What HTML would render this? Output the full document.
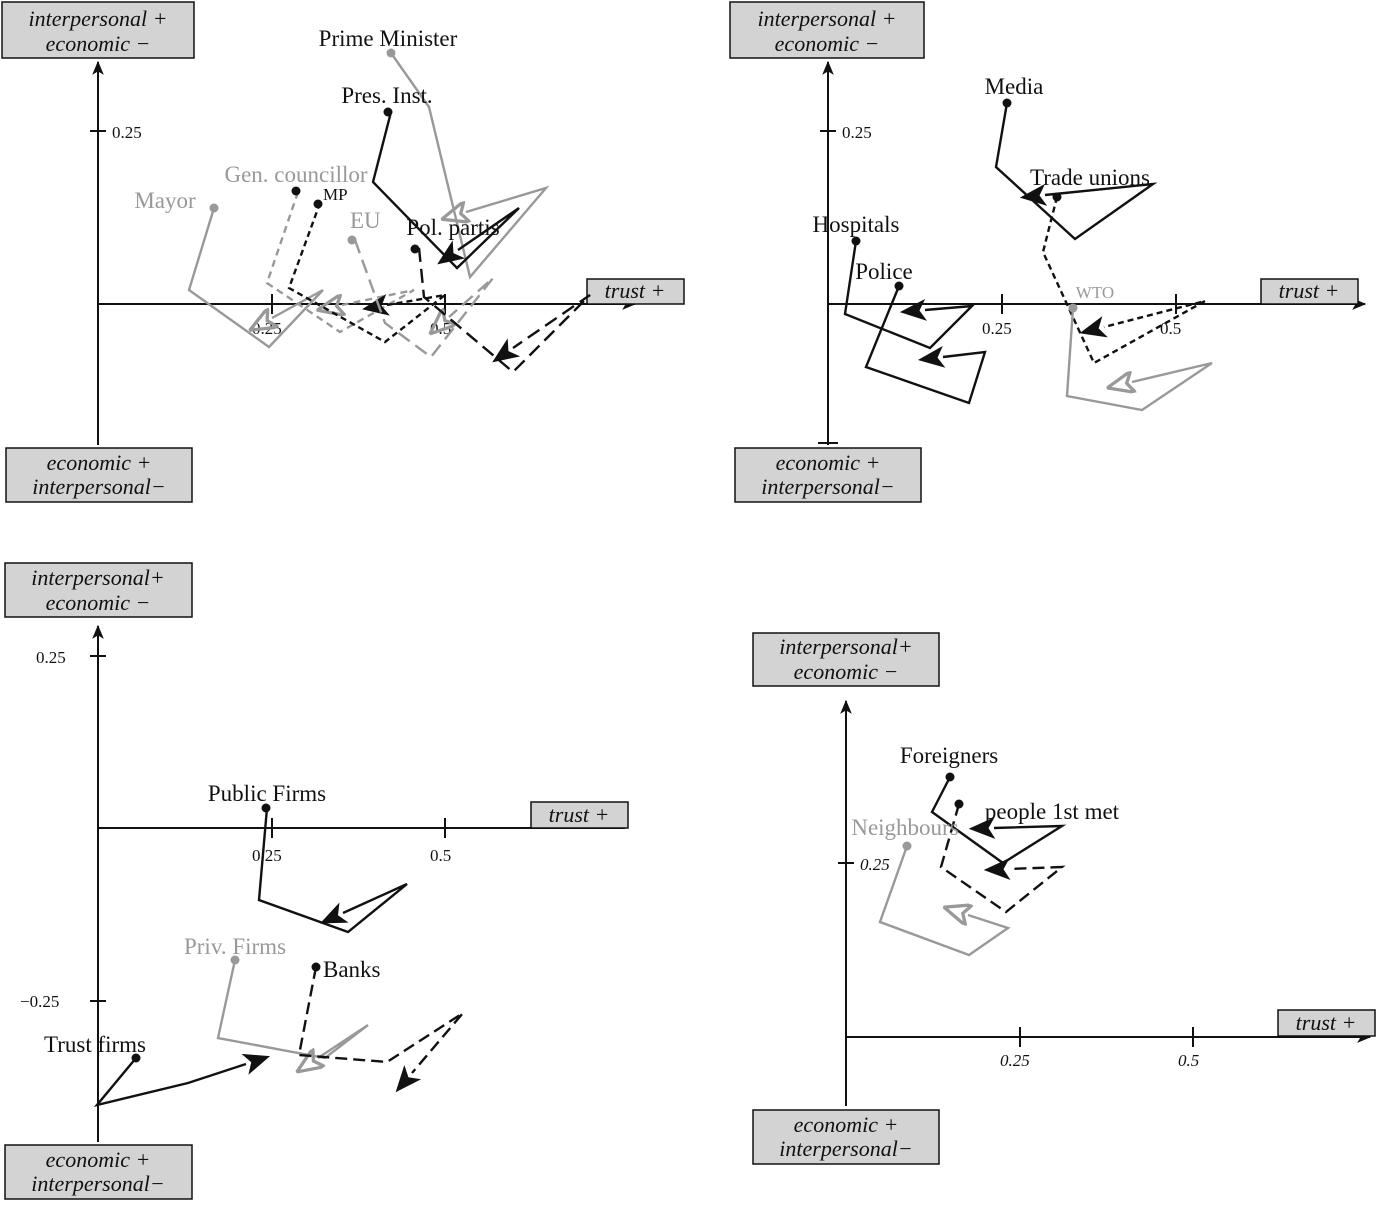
<!DOCTYPE html>
<html><head><meta charset="utf-8"><style>
body{margin:0;background:#fff}
svg text{font-family:"Liberation Serif",serif}
.lb{font-size:23px;fill:#111}
.gl{font-size:23px;fill:#999}
.bx{font-size:22px;font-style:italic;fill:#111}
.tk{font-size:17px;fill:#111}
.b{fill:none;stroke:#111;stroke-width:2.4}
.g{fill:none;stroke:#999;stroke-width:2.4}
</style></head><body>
<svg width="1379" height="1200" viewBox="0 0 1379 1200" xmlns="http://www.w3.org/2000/svg">
<defs>
<marker id="ab" viewBox="0 0 12 10" refX="11" refY="5" markerWidth="14" markerHeight="12" markerUnits="userSpaceOnUse" orient="auto-start-reverse"><path d="M0,0 L12,5 L0,10 L3,5 z" fill="#111"/></marker>
<marker id="ag" viewBox="0 0 12 10" refX="11" refY="5" markerWidth="14" markerHeight="12" markerUnits="userSpaceOnUse" orient="auto"><path d="M0,0 L12,5 L0,10 L3,5 z" fill="#999"/></marker>
<marker id="tb" viewBox="0 0 24 20" refX="1" refY="10" markerWidth="28" markerHeight="22" markerUnits="userSpaceOnUse" orient="auto"><path d="M24,10 L0,0 L6,10 L0,20 z" fill="#111"/></marker>
<marker id="tg" viewBox="0 0 24 20" refX="1" refY="10" markerWidth="28" markerHeight="22" markerUnits="userSpaceOnUse" orient="auto"><path d="M24,10 L0,0 L6,10 L0,20 z" fill="none" stroke="#999" stroke-width="3"/></marker>
<marker id="tbo" viewBox="0 0 24 20" refX="1" refY="10" markerWidth="28" markerHeight="22" markerUnits="userSpaceOnUse" orient="auto"><path d="M24,10 L0,0 L6,10 L0,20 z" fill="#111"/></marker>
</defs>

<!-- ===== Panel TL ===== -->
<g stroke="#111" stroke-width="2" fill="none">
<line x1="98" y1="445" x2="98" y2="62" marker-end="url(#ab)"/>
<line x1="98" y1="304" x2="635" y2="304" marker-end="url(#ab)"/>
<line x1="272" y1="294" x2="272" y2="314"/><line x1="445" y1="294" x2="445" y2="314"/>
<line x1="90" y1="131" x2="106" y2="131"/>
</g>
<text class="tk" x="112" y="138">0.25</text>
<text class="tk" x="252" y="334">0.25</text><text class="tk" x="430" y="334">0.5</text>
<rect x="2" y="2" width="192" height="56" fill="#d3d3d3" stroke="#111" stroke-width="1.5"/>
<text class="bx" x="98" y="26" text-anchor="middle">interpersonal +</text><text class="bx" x="98" y="51" text-anchor="middle">economic −</text>
<rect x="6" y="448" width="186" height="54" fill="#d3d3d3" stroke="#111" stroke-width="1.5"/>
<text class="bx" x="99" y="470" text-anchor="middle">economic +</text><text class="bx" x="99" y="494" text-anchor="middle">interpersonal−</text>
<rect x="587" y="279" width="97" height="25" fill="#d3d3d3" stroke="#111" stroke-width="1.5"/>
<text class="bx" x="635" y="298" text-anchor="middle">trust +</text>

<polyline class="g" points="391,53 429,107 470,277 546,188 466,212" marker-end="url(#tg)"/>
<polyline class="b" points="391,112 373,182 457,268 519,208 458,250" marker-end="url(#tb)"/>
<polyline class="g" points="214,208 189,290 269,347 323,290 272,318" marker-end="url(#tg)"/>
<polyline class="g" points="298,192 267,283 340,332 414,290 342,305" stroke-dasharray="7,5" marker-end="url(#tg)"/>
<polyline class="b" points="320,203 289,288 385,342 445,295 387,305" stroke-dasharray="6,4" marker-end="url(#tb)"/>
<polyline class="g" points="355,240 385,323 431,357 493,278 449,317" stroke-dasharray="14,7" marker-end="url(#tg)"/>
<polyline class="b" points="419,248 424,297 513,372 590,295 513,348" stroke-dasharray="14,7" marker-end="url(#tb)"/>
<g fill="#111"><circle cx="391" cy="53" r="4.5" fill="#999"/><circle cx="388" cy="112" r="4.5"/><circle cx="214" cy="208" r="4.5" fill="#999"/><circle cx="296" cy="191" r="4.5"/><circle cx="318" cy="204" r="4.5"/><circle cx="352" cy="240" r="4.5" fill="#999"/><circle cx="415" cy="249" r="4.5"/></g>
<text class="lb" x="388" y="46" text-anchor="middle">Prime Minister</text>
<text class="lb" x="387" y="103" text-anchor="middle">Pres. Inst.</text>
<text class="gl" x="296" y="182" text-anchor="middle">Gen. councillor</text>
<text class="gl" x="165" y="208" text-anchor="middle">Mayor</text>
<text class="lb" x="323" y="200" style="font-size:17px">MP</text>
<text class="gl" x="350" y="228">EU</text>
<text class="lb" x="453" y="235" text-anchor="middle">Pol. partis</text>

<!-- ===== Panel TR ===== -->
<g stroke="#111" stroke-width="2" fill="none">
<line x1="828" y1="445" x2="828" y2="62" marker-end="url(#ab)"/>
<line x1="828" y1="304" x2="1365" y2="304" marker-end="url(#ab)"/>
<line x1="1002" y1="294" x2="1002" y2="314"/><line x1="1176" y1="294" x2="1176" y2="314"/>
<line x1="820" y1="131" x2="836" y2="131"/><line x1="818" y1="443" x2="838" y2="443"/>
</g>
<text class="tk" x="842" y="138">0.25</text>
<text class="tk" x="982" y="334">0.25</text><text class="tk" x="1160" y="334">0.5</text>
<rect x="730" y="2" width="194" height="56" fill="#d3d3d3" stroke="#111" stroke-width="1.5"/>
<text class="bx" x="827" y="26" text-anchor="middle">interpersonal +</text><text class="bx" x="827" y="51" text-anchor="middle">economic −</text>
<rect x="735" y="448" width="186" height="54" fill="#d3d3d3" stroke="#111" stroke-width="1.5"/>
<text class="bx" x="828" y="470" text-anchor="middle">economic +</text><text class="bx" x="828" y="494" text-anchor="middle">interpersonal−</text>
<rect x="1261" y="279" width="97" height="25" fill="#d3d3d3" stroke="#111" stroke-width="1.5"/>
<text class="bx" x="1309" y="298" text-anchor="middle">trust +</text>

<polyline class="b" points="1007,103 996,167 1075,239 1153,184 1045,195" marker-end="url(#tb)"/>
<polyline class="b" points="1057,197 1043,252 1094,363 1205,301 1104,327" stroke-dasharray="6,4" marker-end="url(#tb)"/>
<polyline class="b" points="856,241 845,314 930,348 972,306 925,310" marker-end="url(#tb)"/>
<polyline class="b" points="899,286 866,367 969,403 985,352 943,357" marker-end="url(#tb)"/>
<polyline class="g" points="1073,308 1067,396 1142,410 1212,363 1132,382" marker-end="url(#tg)"/>
<g fill="#111"><circle cx="1007" cy="103" r="4.5"/><circle cx="1057" cy="197" r="4.5"/><circle cx="856" cy="241" r="4.5"/><circle cx="899" cy="286" r="4.5"/><circle cx="1073" cy="308" r="4.5" fill="#999"/></g>
<text class="lb" x="1014" y="94" text-anchor="middle">Media</text>
<text class="lb" x="1090" y="185" text-anchor="middle">Trade unions</text>
<text class="lb" x="856" y="232" text-anchor="middle">Hospitals</text>
<text class="lb" x="884" y="279" text-anchor="middle">Police</text>
<text class="gl" x="1095" y="298" text-anchor="middle" style="font-size:17px">WTO</text>

<!-- ===== Panel BL ===== -->
<g stroke="#111" stroke-width="2" fill="none">
<line x1="98" y1="1142" x2="98" y2="626" marker-end="url(#ab)"/>
<line x1="98" y1="828" x2="625" y2="828"/>
<line x1="272" y1="818" x2="272" y2="838"/><line x1="445" y1="818" x2="445" y2="838"/>
<line x1="90" y1="656" x2="106" y2="656"/><line x1="90" y1="1001" x2="106" y2="1001"/>
</g>
<text class="tk" x="36" y="663">0.25</text><text class="tk" x="20" y="1007">−0.25</text>
<text class="tk" x="252" y="861">0.25</text><text class="tk" x="430" y="861">0.5</text>
<rect x="5" y="563" width="187" height="54" fill="#d3d3d3" stroke="#111" stroke-width="1.5"/>
<text class="bx" x="98" y="585" text-anchor="middle">interpersonal+</text><text class="bx" x="98" y="610" text-anchor="middle">economic −</text>
<rect x="5" y="1145" width="187" height="54" fill="#d3d3d3" stroke="#111" stroke-width="1.5"/>
<text class="bx" x="98" y="1167" text-anchor="middle">economic +</text><text class="bx" x="98" y="1191" text-anchor="middle">interpersonal−</text>
<rect x="531" y="802" width="97" height="26" fill="#d3d3d3" stroke="#111" stroke-width="1.5"/>
<text class="bx" x="579" y="822" text-anchor="middle">trust +</text>

<polyline class="b" points="267,808 259,900 348,932 407,884 343,913" marker-end="url(#tb)"/>
<polyline class="g" points="235,960 218,1038 325,1058 368,1025 318,1058" marker-end="url(#tg)"/>
<polyline class="b" points="316,967 299,1055 387,1062 463,1013 412,1073" stroke-dasharray="12,6" marker-end="url(#tb)"/>
<polyline class="b" points="136,1058 97,1105 188,1083 246,1064" marker-end="url(#tb)"/>
<g fill="#111"><circle cx="266" cy="808" r="4.5"/><circle cx="235" cy="960" r="4.5" fill="#999"/><circle cx="316" cy="967" r="4.5"/><circle cx="136" cy="1058" r="4.5"/></g>
<text class="lb" x="267" y="801" text-anchor="middle">Public Firms</text>
<text class="gl" x="235" y="954" text-anchor="middle">Priv. Firms</text>
<text class="lb" x="323" y="977">Banks</text>
<text class="lb" x="95" y="1052" text-anchor="middle">Trust firms</text>

<!-- ===== Panel BR ===== -->
<g stroke="#111" stroke-width="2" fill="none">
<line x1="846" y1="1106" x2="846" y2="701" marker-end="url(#ab)"/>
<line x1="846" y1="1037" x2="1370" y2="1037" marker-end="url(#ab)"/>
<line x1="1020" y1="1027" x2="1020" y2="1047"/><line x1="1193" y1="1027" x2="1193" y2="1047"/>
<line x1="838" y1="863" x2="854" y2="863"/>
</g>
<text class="tk" x="860" y="870" font-style="italic">0.25</text>
<text class="tk" x="1000" y="1066" font-style="italic">0.25</text><text class="tk" x="1178" y="1066" font-style="italic">0.5</text>
<rect x="753" y="633" width="186" height="53" fill="#d3d3d3" stroke="#111" stroke-width="1.5"/>
<text class="bx" x="846" y="654" text-anchor="middle">interpersonal+</text><text class="bx" x="846" y="679" text-anchor="middle">economic −</text>
<rect x="753" y="1110" width="186" height="54" fill="#d3d3d3" stroke="#111" stroke-width="1.5"/>
<text class="bx" x="846" y="1132" text-anchor="middle">economic +</text><text class="bx" x="846" y="1156" text-anchor="middle">interpersonal−</text>
<rect x="1278" y="1010" width="97" height="26" fill="#d3d3d3" stroke="#111" stroke-width="1.5"/>
<text class="bx" x="1326" y="1030" text-anchor="middle">trust +</text>

<polyline class="b" points="950,777 932,812 1003,863 1062,826 994,828" marker-end="url(#tb)"/>
<polyline class="b" points="959,804 941,867 1006,912 1062,867 1009,869" stroke-dasharray="12,6" marker-end="url(#tb)"/>
<polyline class="g" points="907,846 880,922 969,955 1008,928 968,915" marker-end="url(#tg)"/>
<g fill="#111"><circle cx="950" cy="777" r="4.5"/><circle cx="959" cy="804" r="4.5"/><circle cx="907" cy="846" r="4.5" fill="#999"/></g>
<text class="lb" x="949" y="763" text-anchor="middle">Foreigners</text>
<text class="lb" x="1052" y="819" text-anchor="middle">people 1st met</text>
<text class="gl" x="905" y="835" text-anchor="middle">Neighbours</text>
</svg>
</body></html>
